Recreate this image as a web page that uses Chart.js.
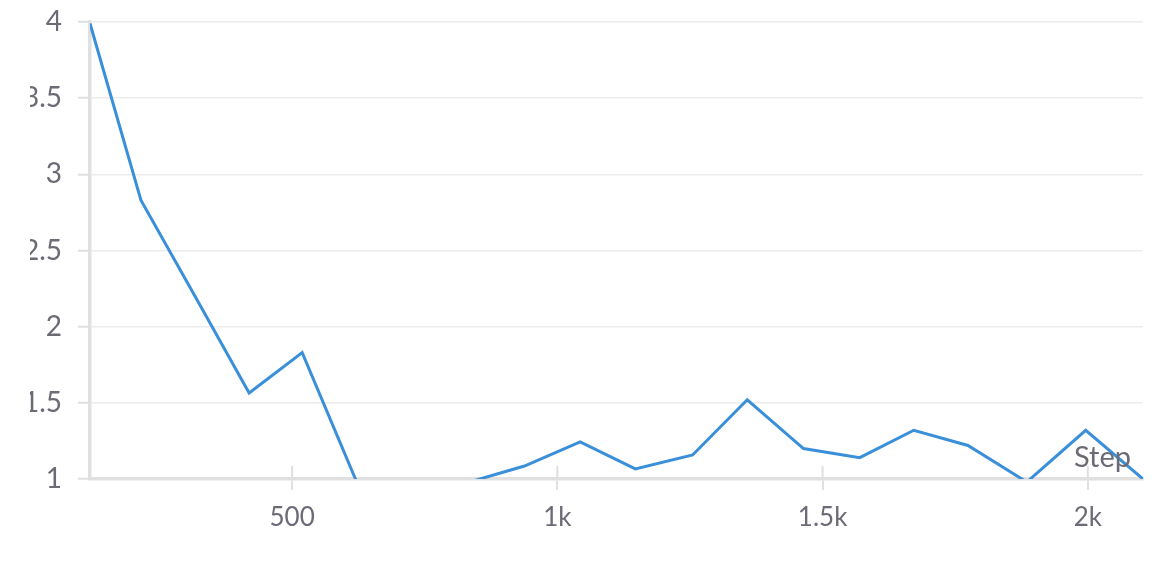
<!DOCTYPE html>
<html lang="en">
<head>
    <meta charset="UTF-8">
    <title>Step chart</title>
    <script src="https://cdn.jsdelivr.net/npm/chart.js"></script>
    <style>
        body {
            margin: 0;
            padding: 0;
            width: 1163px;
            height: 561px;
            overflow: hidden;
            position: relative;
            background: #fff;
        }
        /* the panel is cut off a bit on the left, like the original */
        #wrap {
            position: absolute;
            left: 30px;
            top: 0;
            width: 1133px;
            height: 561px;
            overflow: hidden;
        }
        #lineChart {
            position: absolute;
            left: -30px;
            top: 0;
        }
    </style>
</head>
<body>
    <div id="wrap"><canvas id="lineChart" width="1163" height="561"></canvas></div>
    <script>
        const steps = [119, 215, 317, 419, 519, 623, 728, 834, 938, 1043, 1147, 1255, 1358, 1464, 1570, 1672, 1774, 1885, 1996, 2104];
        const values = [3.99, 2.83, 2.2, 1.565, 1.83, 0.97, 0.9, 0.98, 1.085, 1.243, 1.066, 1.158, 1.52, 1.2, 1.14, 1.32, 1.22, 0.98, 1.32, 1.0];
        const xTicks = [500, 1000, 1500, 2000];
        const yTicks = [1, 1.5, 2, 2.5, 3, 3.5, 4];
        const xLabel = 'Step';

        const textColor = '#6b6b76';
        const axisColor = '#e0e0e0';
        const gridColor = '#ececec';

        // little tick marks above the x axis plus the "Step" label
        const extras = {
            id: 'extras',
            afterDatasetsDraw(chart) {
                const { ctx, chartArea, scales } = chart;
                ctx.save();
                ctx.strokeStyle = axisColor;
                ctx.lineWidth = 2;
                xTicks.forEach(v => {
                    const px = scales.x.getPixelForValue(v);
                    ctx.beginPath();
                    ctx.moveTo(px, chartArea.bottom - 13);
                    ctx.lineTo(px, chartArea.bottom);
                    ctx.stroke();
                });
                ctx.fillStyle = textColor;
                ctx.font = '29px Lato';
                ctx.textAlign = 'right';
                ctx.textBaseline = 'alphabetic';
                ctx.fillText(xLabel, chartArea.right - 12, chartArea.bottom - 12);
                ctx.restore();
            }
        };

        const ctx = document.getElementById('lineChart').getContext('2d');
        new Chart(ctx, {
            type: 'line',
            data: {
                datasets: [{
                    data: steps.map((s, i) => ({ x: s, y: values[i] })),
                    borderColor: '#3a8fd9',
                    borderWidth: 3,
                    pointRadius: 0,
                    tension: 0,
                    clip: 0
                }]
            },
            options: {
                responsive: false,
                animation: false,
                layout: { padding: { top: 22, right: 20, left: 0, bottom: 0 } },
                plugins: {
                    legend: { display: false },
                    tooltip: { enabled: false }
                },
                scales: {
                    x: {
                        type: 'linear',
                        min: steps[0],
                        max: steps[steps.length - 1],
                        afterBuildTicks: scale => {
                            scale.ticks = xTicks.map(v => ({ value: v }));
                        },
                        afterFit: scale => {
                            scale.height = 82;
                            scale.paddingLeft = 0;
                            scale.paddingRight = 0;
                        },
                        border: { color: axisColor, width: 3.5 },
                        grid: {
                            drawOnChartArea: false,
                            color: axisColor,
                            lineWidth: 2,
                            tickLength: 11
                        },
                        ticks: {
                            color: textColor,
                            font: { family: 'Lato', size: 26 },
                            padding: 12,
                            maxRotation: 0,
                            callback: v => v >= 1000 ? (v / 1000) + 'k' : String(v)
                        }
                    },
                    y: {
                        min: 1,
                        max: 4,
                        afterBuildTicks: scale => {
                            scale.ticks = yTicks.map(v => ({ value: v }));
                        },
                        afterFit: scale => {
                            scale.width = 90;
                            scale.paddingTop = 0;
                            scale.paddingBottom = 0;
                        },
                        border: { color: axisColor, width: 3.5 },
                        grid: {
                            color: gridColor,
                            lineWidth: 1.5,
                            tickLength: 12,
                            tickColor: axisColor,
                            tickWidth: 2
                        },
                        ticks: {
                            color: textColor,
                            font: { family: 'Lato', size: 28 },
                            padding: 16,
                            callback: v => String(v)
                        }
                    }
                }
            },
            plugins: [extras]
        });
    </script>
</body>
</html>
